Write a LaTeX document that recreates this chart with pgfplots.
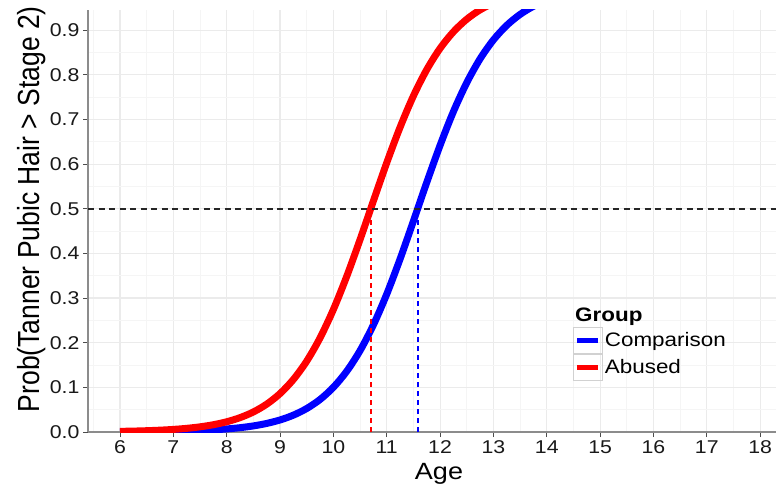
\documentclass[border=0pt]{standalone}
\usepackage{pgfplots}
\pgfplotsset{compat=1.18}
\usepackage{fontspec}
\setmainfont{Liberation Sans}[FakeStretch=1.15]
\newfontfamily\ylabfont{Liberation Sans}[FakeStretch=0.869]

\definecolor{gridmajor}{HTML}{EBEBEB}
\definecolor{gridminor}{HTML}{F5F5F5}
\definecolor{cmpblue}{RGB}{0,0,255}
\definecolor{abured}{RGB}{255,0,0}

% logistic fits, Prob(Tanner pubic hair > stage 2) by age
\pgfplotstableread{
age   p
6.00  0.00043
6.50  0.00086
7.00  0.00172
7.50  0.00343
7.75  0.00485
8.00  0.00685
8.25  0.00967
8.50  0.01364
8.75  0.01920
9.00  0.02696
9.25  0.03774
9.50  0.05260
9.75  0.07283
10.00 0.1001
10.25 0.1360
10.50 0.1822
10.75 0.2398
11.00 0.3087
11.25 0.3873
11.50 0.4722
11.58 0.5000
11.75 0.5588
12.00 0.6419
12.25 0.7174
12.50 0.7822
12.75 0.8356
13.00 0.8780
13.25 0.9106
13.50 0.9351
13.75 0.9533
14.00 0.9665
}\comparison

\pgfplotstableread{
age   p
6.00  0.00145
6.25  0.00205
6.50  0.00290
6.75  0.00411
7.00  0.00581
7.25  0.00820
7.50  0.01157
7.75  0.01630
8.00  0.02291
8.25  0.03213
8.50  0.04487
8.75  0.06234
9.00  0.08604
9.25  0.1176
9.50  0.1587
9.75  0.2107
10.00 0.2743
10.25 0.3485
10.50 0.4309
10.70 0.5000
10.75 0.5174
11.00 0.6028
11.25 0.6823
11.50 0.7525
11.75 0.8114
12.00 0.8590
12.25 0.8961
12.50 0.9243
12.75 0.9453
13.00 0.9607
}\abused

\begin{document}
\begin{tikzpicture}
\begin{axis}[
  scale only axis,
  width=702pt, height=422pt,
  xmin=5.4, xmax=18.56, ymin=0, ymax=0.945,
  axis lines*=left,
  axis line style={draw=black!45, line width=1.2pt},
  xtick={6,7,8,9,10,11,12,13,14,15,16,17,18},
  ytick={0,0.1,0.2,0.3,0.4,0.5,0.6,0.7,0.8,0.9},
  minor xtick={5.5,6.5,7.5,8.5,9.5,10.5,11.5,12.5,13.5,14.5,15.5,16.5,17.5,18.5},
  minor ytick={0.05,0.15,0.25,0.35,0.45,0.55,0.65,0.75,0.85},
  grid=both,
  major grid style={draw=gridmajor, line width=1.1pt},
  minor grid style={draw=gridminor, line width=0.6pt},
  tick align=outside,
  major tick length=5pt,
  minor tick length=0pt,
  tick style={draw=black!70, line width=1pt},
  /pgf/number format/assume math mode=true,
  tick label style={font=\fontsize{18.5}{20}\selectfont, text=black!90},
  yticklabel style={/pgf/number format/fixed, /pgf/number format/fixed zerofill, /pgf/number format/precision=1},
  xlabel={Age},
  xlabel style={font=\fontsize{23.5}{26}\selectfont, at={(axis description cs:0.5,-0.1137)}, anchor=base},
  ylabel={\ylabfont Prob(Tanner Pubic Hair > Stage 2)},
  ylabel style={font=\fontsize{30.5}{33}\selectfont, at={(axis description cs:-0.0684,0.528)}, anchor=base, rotate=0},
  legend style={at={(axis cs:14.49,0.2354)}, anchor=north west, draw=none, fill=none,
    inner sep=0pt, outer sep=0pt, row sep=0pt,
    font=\fontsize{19.5}{21}\selectfont,
    nodes={inner sep=2pt, text depth=0.15em}},
  legend cell align=left,
  legend image code/.code={
    \draw[draw=black!18, line width=1pt, fill=none] (0pt,-13pt) rectangle (29pt,13pt);
    \draw[line width=4.5pt] (4pt,0pt) -- (25pt,0pt);
  },
]
\addplot[draw=cmpblue, line width=7pt, smooth] table[x=age, y=p] {\comparison};
\addlegendentry{Comparison}
\addplot[draw=abured, line width=7pt, smooth] table[x=age, y=p] {\abused};
\addlegendentry{Abused}

% reference line at 0.5 and the ages where each curve crosses it
\addplot[draw=black!85, line width=1.7pt, dash pattern=on 6pt off 4.5pt, forget plot]
  coordinates {(5.4,0.5) (18.56,0.5)};
\addplot[draw=abured, line width=2pt, dash pattern=on 5.5pt off 3.5pt, forget plot]
  coordinates {(10.7,0) (10.7,0.5)};
\addplot[draw=cmpblue, line width=2pt, dash pattern=on 5.5pt off 3.5pt, forget plot]
  coordinates {(11.58,0) (11.58,0.5)};

\node[anchor=base west, inner sep=0pt, font=\fontsize{19.5}{21}\selectfont\bfseries]
  at (axis cs:14.53,0.2466) {Group};
\end{axis}
\pgfresetboundingbox
\path[use as bounding box] ([shift={(-88pt,-54pt)}]current axis.south west)
  rectangle ([shift={(-14pt,10pt)}]current axis.north east);
\end{tikzpicture}
\end{document}
